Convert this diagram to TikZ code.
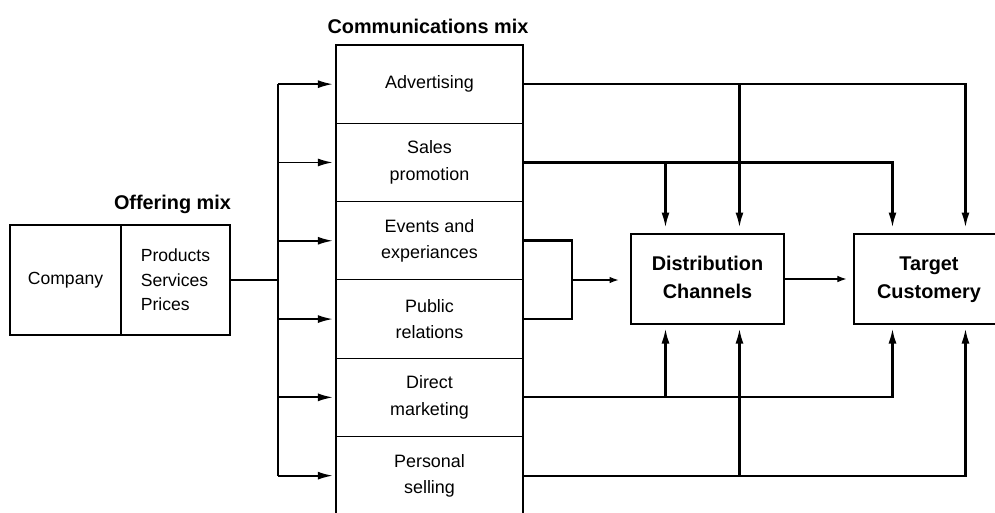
\documentclass[tikz,border=0pt]{standalone}
\usepackage{fontspec}
\setmainfont{Liberation Sans}
\usetikzlibrary{arrows.meta}

\begin{document}
\begin{tikzpicture}[x=0.02cm, y=-0.02cm,
		box/.style={draw, line width=0.6pt, align=center, inner sep=0pt, font=\fontsize{10}{14}\selectfont},
		mixbox/.style={box, minimum width=3.74cm, minimum height=1.566cm, font=\fontsize{10.2}{15}\selectfont},
		bigbox/.style={box, minimum width=3.06cm, minimum height=1.8cm, font=\fontsize{11.3}{15.5}\selectfont\bfseries},
		title/.style={font=\fontsize{11.3}{14}\selectfont\bfseries},
		conn/.style={line width=1.2pt, -{Latex[length=3mm,width=1.6mm]}},
		thinarrow/.style={line width=0.6pt, -{Latex[length=1.8mm,width=1.3mm]}}]
				\useasboundingbox (0,0) rectangle (995,512);
				% titles
				\node[title] (commtitle) at (428,26) {Communications mix};
				\node[title] (offertitle) at (172.5,204) {Offering mix};
				% offering mix
				\node[box, minimum width=2.22cm, minimum height=2.2cm] (company) at (65.5,280) {Company};
				\node[box, align=left, minimum width=2.18cm, minimum height=2.2cm] (offer) at (175.5,280) {Products\\Services\\Prices};
				% communications mix
				\node[mixbox] (adv) at (429.5,84.15) {Advertising};
				\node[mixbox] (sales) at (429.5,162.45) {Sales\\promotion};
				\node[mixbox] (events) at (429.5,240.75) {Events and\\experiances};
				\node[mixbox] (public) at (429.5,319.05) {Public\\relations};
				\node[mixbox] (direct) at (429.5,397.35) {Direct\\marketing};
				\node[mixbox] (personal) at (429.5,475.65) {Personal\\selling};
				% channels and customers
				\node[bigbox] (dist) at (707.5,279) {\strut Distribution\\Channels\strut};
				\node[bigbox, minimum width=3cm] (target) at (929,279) {\strut Target\\Customery\strut};
				% helper points
				\coordinate (bus) at (278,280);
				\coordinate (join) at (572,280);
				\coordinate (dn1) at ([xshift=0.7cm]dist.north west);
				\coordinate (dn2) at ([xshift=2.18cm]dist.north west);
				\coordinate (ds1) at ([xshift=0.7cm]dist.south west);
				\coordinate (ds2) at ([xshift=2.18cm]dist.south west);
				\coordinate (tn1) at ([xshift=0.78cm]target.north west);
				\coordinate (tn2) at ([xshift=2.24cm]target.north west);
				\coordinate (ts1) at ([xshift=0.78cm]target.south west);
				\coordinate (ts2) at ([xshift=2.24cm]target.south west);
				% offering mix to communications mix
				\draw[line width=1pt] (offer.east) -- (bus);
				\draw[line width=1pt] (bus |- adv.west) -- (bus |- personal.west);
				\foreach \n in {adv,sales,events,public,direct,personal}
					\draw[conn, line width=1pt, shorten >=1.5pt] (bus |- \n.west) -- (\n.west);
				% from above
				\draw[conn, shorten >=3.4pt] (adv.east) -| (tn2);
				\draw[conn, shorten >=3.4pt] (dn2 |- adv.east) -- (dn2);
				\draw[conn, shorten >=3.4pt] (sales.east) -| (tn1);
				\draw[conn, shorten >=3.4pt] (dn1 |- sales.east) -- (dn1);
				% from below
				\draw[conn, shorten >=2.3pt] (direct.east) -| (ts1);
				\draw[conn, shorten >=2.3pt] (ds1 |- direct.east) -- (ds1);
				\draw[conn, shorten >=2.3pt] (personal.east) -| (ts2);
				\draw[conn, shorten >=2.3pt] (ds2 |- personal.east) -- (ds2);
				% events and public relations
				\draw[line width=1.5pt] (events.east) -| (join) |- (public.east);
				\draw[thinarrow, shorten >=6.8pt] (join) -- (join -| dist.west);
				\draw[thinarrow, shorten >=4pt] (dist.east) -- (target.west);
			\end{tikzpicture}
\end{document}
